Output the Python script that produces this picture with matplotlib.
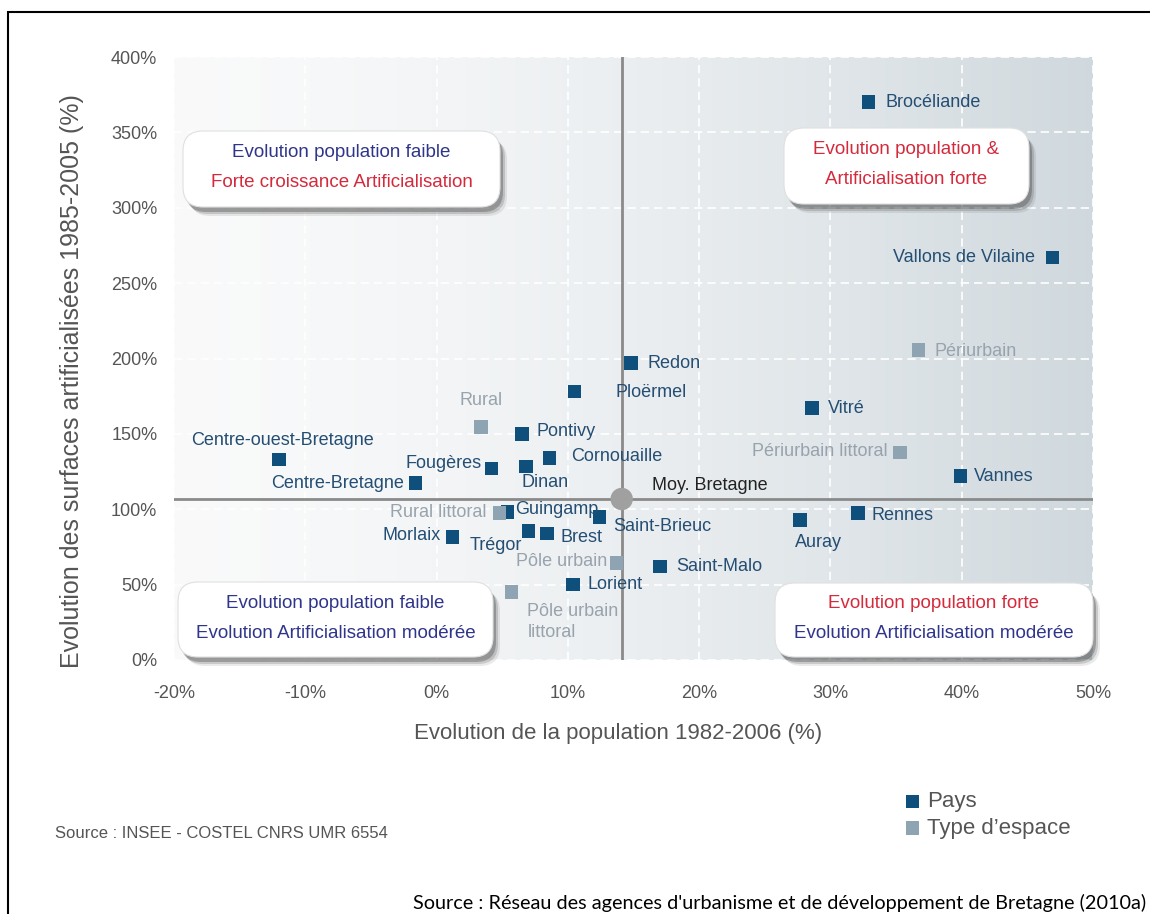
import numpy as np
import matplotlib
matplotlib.use("Agg")
import matplotlib.pyplot as plt
from matplotlib.patches import FancyBboxPatch, Rectangle
from matplotlib.ticker import FuncFormatter

plt.rcParams["font.family"] = ["Liberation Sans", "DejaVu Sans"]

# valeurs : évolution population 1982-2006 (%), surfaces artificialisées 1985-2005 (%)
pays = ["Brocéliande", "Vallons de Vilaine", "Redon", "Ploërmel", "Vitré", "Vannes",
        "Rennes", "Auray", "Saint-Malo", "Lorient", "Saint-Brieuc", "Brest", "Trégor",
        "Guingamp", "Morlaix", "Centre-Bretagne", "Centre-ouest-Bretagne", "Fougères",
        "Dinan", "Cornouaille", "Pontivy"]
pays_pop = [32.9, 46.9, 14.8, 10.5, 28.6, 39.9, 32.1, 27.7, 17.0, 10.4, 12.4, 8.4, 7.0,
            5.4, 1.2, -1.6, -12.0, 4.2, 6.8, 8.6, 6.5]
pays_surf = [370, 267, 197, 178, 167, 122, 97.5, 93, 62, 50, 95, 84, 85.5,
             98, 81.5, 117.5, 133, 127, 128.5, 134, 150]

espaces = ["Rural", "Rural littoral", "Périurbain", "Périurbain littoral", "Pôle urbain",
           "Pôle urbain\nlittoral"]
esp_pop = [3.4, 4.8, 36.7, 35.3, 13.7, 5.7]
esp_surf = [154.5, 97.5, 205.5, 137.5, 64.5, 45]

moy_pop, moy_surf = 14.1, 106.8

x_ticks = [-20, -10, 0, 10, 20, 30, 40, 50]
y_ticks = [0, 50, 100, 150, 200, 250, 300, 350, 400]

# décalage des étiquettes en pixels (dx, dy, alignement)
lab_pays = {
    "Brocéliande": (17, 0, "left"), "Vallons de Vilaine": (-17, 0, "right"),
    "Redon": (17, 0, "left"), "Ploërmel": (41, -1, "left"), "Vitré": (16, 0, "left"),
    "Vannes": (14, 0, "left"), "Rennes": (14, -2, "left"), "Auray": (-5, -23, "left"),
    "Saint-Malo": (16, 0, "left"), "Lorient": (14, 0, "left"),
    "Saint-Brieuc": (14, -10, "left"), "Brest": (14, -4, "left"),
    "Trégor": (-6, -14, "right"), "Guingamp": (8, 3, "left"), "Morlaix": (-12, 2, "right"),
    "Centre-Bretagne": (-12, -1, "right"), "Centre-ouest-Bretagne": (3, 19, "center"),
    "Fougères": (-10, 5, "right"), "Dinan": (-4, -16, "left"),
    "Cornouaille": (22, 1, "left"), "Pontivy": (15, 2, "left"),
}
lab_esp = {
    "Rural": (0, 27, "center"), "Rural littoral": (-13, 1, "right"),
    "Périurbain": (16, -1, "left"), "Périurbain littoral": (-12, 1, "right"),
    "Pôle urbain": (-9, 1, "right"), "Pôle urbain\nlittoral": (16, -30, "left"),
}

C_PAYS = "#0f4f7b"
C_ESP = "#8ea4b3"
C_TXT_PAYS = "#244e73"
C_TXT_ESP = "#98a3ad"
NAVY = "#2f358a"
RED = "#d42a3c"

W, H = 1150, 914
fig = plt.figure(figsize=(W / 100, H / 100), dpi=100)
ax = fig.add_axes([174 / W, 1 - 660 / H, (1093 - 174) / W, (660 - 57) / H])

# fond dégradé
gx = np.linspace(0, 1, 256) ** 1.5
c0 = np.array([0.978, 0.98, 0.982])
c1 = np.array([0.815, 0.85, 0.87])
grad = c0[None, None, :] + (c1 - c0)[None, None, :] * gx[None, :, None]
grad = np.repeat(grad, 2, axis=0)
ax.imshow(grad, extent=[0, 1, 0, 1], transform=ax.transAxes, aspect="auto", zorder=0)

ax.set_xlim(-20, 50)
ax.set_ylim(0, 400)
ax.set_xticks(x_ticks)
ax.set_yticks(y_ticks)
ax.xaxis.set_major_formatter(FuncFormatter(lambda v, p: f"{v:.0f}%"))
ax.yaxis.set_major_formatter(FuncFormatter(lambda v, p: f"{v:.0f}%"))
ax.tick_params(length=0, labelsize=13, labelcolor="#555555")
ax.tick_params(axis="x", pad=18)
ax.tick_params(axis="y", pad=12)
ax.grid(True, color="white", linestyle=(0, (5, 3)), linewidth=1.2, zorder=1)
ax.set_axisbelow(True)
for s in ax.spines.values():
    s.set_visible(False)

# moyenne bretonne
ax.axvline(moy_pop, color="#8a8a8a", lw=2, zorder=2)
ax.axhline(moy_surf, color="#8a8a8a", lw=2, zorder=2)
ax.scatter([moy_pop], [moy_surf], s=260, color="#a0a0a0", zorder=3, edgecolors="none")
ax.annotate("Moy. Bretagne", (moy_pop, moy_surf), xytext=(30, 13), textcoords="offset pixels",
            ha="left", va="center", fontsize=13, color="#222222", zorder=6)

ax.scatter(pays_pop, pays_surf, marker="s", s=95, color=C_PAYS, edgecolors="none",
           zorder=4, label="Pays")
ax.scatter(esp_pop, esp_surf, marker="s", s=95, color=C_ESP, edgecolors="none",
           zorder=5, label="Type d’espace")

for n, x, y in zip(pays, pays_pop, pays_surf):
    dx, dy, ha = lab_pays[n]
    ax.annotate(n, (x, y), xytext=(dx, dy), textcoords="offset pixels", ha=ha, va="center",
                fontsize=13, color=C_TXT_PAYS, zorder=6)
for n, x, y in zip(espaces, esp_pop, esp_surf):
    dx, dy, ha = lab_esp[n]
    ax.annotate(n, (x, y), xytext=(dx, dy), textcoords="offset pixels", ha=ha, va="center",
                fontsize=13, color=C_TXT_ESP, zorder=6, linespacing=1.3)


def boite(x0, y0, x1, y1, lignes):
    # coordonnées en pixels depuis le coin haut-gauche
    asp = W / H
    bx, by = x0 / W, 1 - y1 / H
    bw, bh = (x1 - x0) / W, (y1 - y0) / H
    r = 20 / W
    for ox, oy, a in [(7, 9, 0.1), (5, 7, 0.18), (3, 5, 0.3)]:
        sh = FancyBboxPatch((bx + ox / W, by - oy / H), bw, bh,
                            boxstyle=f"round,pad=0,rounding_size={r}", mutation_aspect=asp,
                            transform=fig.transFigure, facecolor="#333333", edgecolor="none",
                            alpha=a, zorder=7)
        fig.add_artist(sh)
    fig.add_artist(FancyBboxPatch((bx, by), bw, bh, boxstyle=f"round,pad=0,rounding_size={r}",
                                  mutation_aspect=asp, transform=fig.transFigure,
                                  facecolor="white", edgecolor="#e0e0e0", lw=0.8, zorder=8))
    cx = (x0 + x1) / 2 / W
    for (txt, col), fy in zip(lignes, [0.28, 0.68]):
        fig.text(cx, 1 - (y0 + fy * (y1 - y0)) / H, txt, ha="center", va="center",
                 fontsize=13.5, color=col, zorder=9)


boite(183, 131, 500, 207, [("Evolution population faible", NAVY),
                           ("Forte croissance Artificialisation", RED)])
boite(784, 128, 1029, 204, [("Evolution population &", RED),
                            ("Artificialisation forte", RED)])
boite(178, 582, 493, 657, [("Evolution population faible", NAVY),
                           ("Evolution Artificialisation modérée", NAVY)])
boite(775, 583, 1093, 657, [("Evolution population forte", RED),
                            ("Evolution Artificialisation modérée", NAVY)])

fig.text(618 / W, 1 - 734 / H, "Evolution de la population 1982-2006 (%)", ha="center",
         va="center", fontsize=16, color="#555555")
fig.text(72 / W, 1 - 381 / H, "Evolution des surfaces artificialisées 1985-2005 (%)",
         ha="center", va="center", rotation=90, fontsize=18, color="#555555")

fig.legend(loc="center left", bbox_to_anchor=(886 / W, 1 - 815 / H), frameon=False,
           fontsize=16, handlelength=0.6, handletextpad=0.35, labelspacing=0.25,
           markerscale=1.0, labelcolor="#555555")

fig.text(55 / W, 1 - 833 / H, "Source : INSEE - COSTEL CNRS UMR 6554", ha="left",
         va="center", fontsize=12, color="#555555")
fig.text(1146 / W, 1 - 903 / H,
         "Source : Réseau des agences d'urbanisme et de développement de Bretagne (2010a)",
         ha="right", va="center", fontsize=14.3, color="black", family=["Lato", "DejaVu Sans"])

fig.add_artist(Rectangle((8 / W, -0.02), 1.2, 1 - 12 / H + 0.02, transform=fig.transFigure,
                         fill=False, edgecolor="black", lw=1.5, zorder=10))

fig.savefig("out.png", dpi=100)
